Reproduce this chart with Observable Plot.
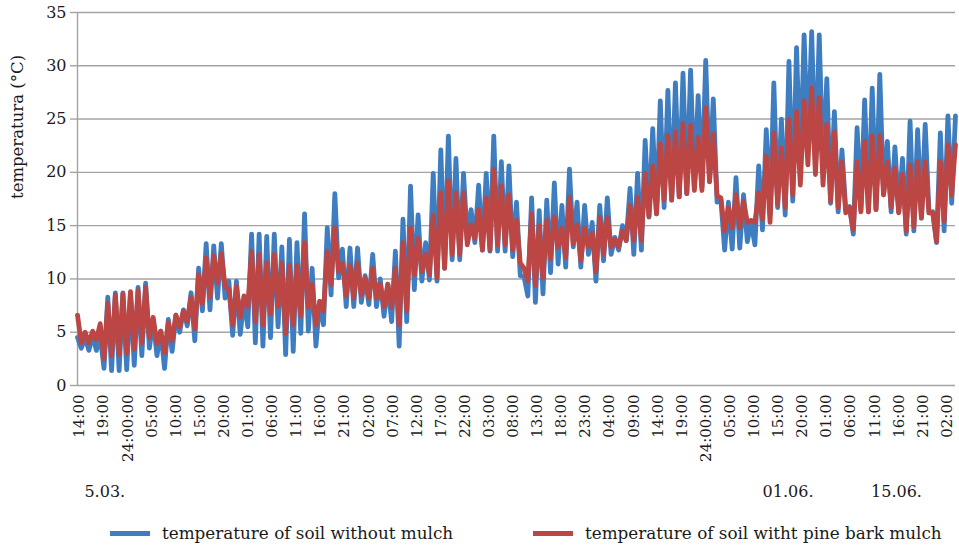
<!DOCTYPE html>
<html><head><meta charset="utf-8">
<script src="https://cdn.jsdelivr.net/npm/d3@7"></script>
<script src="https://cdn.jsdelivr.net/npm/@observablehq/plot@0.6"></script>
<style>
body{margin:0;background:#fff;font-family:"DejaVu Serif",serif;}
#chart{width:959px;height:545px;position:relative;overflow:hidden;}
.legend{position:absolute;top:522px;left:0;width:959px;height:22px;font-size:16.8px;color:#1a1a1a;}
.item{position:absolute;top:0;height:22px;display:flex;align-items:center;white-space:nowrap;}
.sw{width:40px;height:5px;margin-right:12px;}
</style></head><body><div id="chart"></div>
<script>
const tickLabels=["14:00","19:00","24:00:00","05:00","10:00","15:00","20:00","01:00","06:00","11:00","16:00","21:00","02:00","07:00","12:00","17:00","22:00","03:00","08:00","13:00","18:00","23:00","04:00","09:00","14:00","19:00","24:00:00","05:00","10:00","15:00","20:00","01:00","06:00","11:00","16:00","21:00","02:00"];
const dateLabels=["5.03.","01.06.","15.06."];
const datePositions=[1.05,29.4,33.9];
const seriesNames=["temperature of soil without mulch","temperature of soil witht pine bark mulch"];
const seriesColors=["#3f7dc1","#bc4643"];
const yTicks=[0,5,10,15,20,25,30,35];

const soilNoMulch=[
4.5,3.5,4.5,3.3,4.7,3.3,4.7,1.6,8.3,1.4,8.7,1.4,8.7,1.5,8.7,1.9,9.2,2.8,9.6,3.5,6.2,2.8,5.1,1.6,6.2,3.2,6.6,5.0,7.1,5.6,8.7,4.2,11.0,7.0,13.3,7.1,13.1,8.2,13.3,8.2,9.8,4.7,9.8,4.8,8.1,5.5,14.2,
4.0,14.2,3.7,14.0,4.5,14.2,5.5,13.0,2.9,13.7,3.2,13.4,4.9,16.1,5.1,11.0,3.7,7.9,5.7,14.8,8.5,18.0,10.1,12.8,7.4,12.9,7.4,12.9,7.8,10.3,7.6,12.3,7.4,10.0,6.5,9.5,6.0,12.6,3.7,15.6,6.0,18.7,9.0,16.0,9.8,13.4,9.9,
19.9,9.8,22.1,11.0,23.4,11.8,21.3,11.8,19.9,13.7,16.5,13.4,18.8,12.7,19.9,12.6,23.4,12.6,21.0,12.6,20.6,12.1,17.2,10.3,10.2,8.4,17.6,7.8,16.4,8.6,17.4,10.6,19.0,11.4,16.9,11.1,20.3,13.0,17.2,11.1,16.9,12.3,15.3,9.8,16.9,11.7,17.6,12.3,13.9,12.7,15.0,13.6,18.5,12.3,19.9,12.7,23.0,15.8,24.1,16.1,26.7,16.7,27.7,17.4,28.4,17.7,29.3,18.0,29.6,18.6,27.2,18.6,30.5,19.2,26.9,
17.2,17.5,12.7,17.2,12.8,19.5,12.9,17.9,13.5,15.3,13.2,20.6,14.6,24.0,16.0,28.4,16.7,25.0,
16.0,30.4,17.3,31.7,20.1,32.9,22.3,33.2,20.4,32.9,20.1,28.8,17.1,25.7,16.3,22.1,16.5,16.8,14.2,24.2,16.5,26.8,16.3,27.9,16.5,29.2,17.9,22.9,16.3,22.4,16.3,21.3,14.2,24.8,14.5,24.0,15.7,24.5,16.2,16.3,13.4,23.7,14.5,25.3,17.1,25.3
];
const soilPineBark=[
6.6,4.0,5.0,4.0,5.1,4.3,5.8,2.5,7.7,2.8,8.5,2.9,8.6,3.0,8.8,3.4,8.9,4.0,9.2,4.5,6.4,3.9,5.1,3.1,5.9,4.2,6.6,5.5,7.0,6.0,8.3,5.3,10.4,7.7,12.0,8.3,12.2,9.6,12.4,9.3,9.0,5.7,9.3,6.4,8.4,7.4,12.6,
6.0,12.3,5.7,11.5,6.7,12.3,7.4,11.5,4.9,11.3,5.7,11.3,6.5,13.4,7.3,9.5,5.7,7.9,7.0,12.6,9.5,14.8,10.7,11.5,8.4,11.3,8.2,11.5,8.5,10.1,8.2,11.0,8.2,9.5,7.4,9.5,7.3,11.0,5.7,13.4,7.0,14.8,10.4,13.8,10.7,12.3,10.4,
16.0,10.1,18.1,11.0,19.2,12.3,18.1,12.3,18.1,13.2,15.1,13.8,16.5,12.7,17.6,12.7,20.3,13.2,18.7,13.2,17.9,12.7,15.5,11.5,11.0,9.8,16.1,9.4,15.0,10.1,15.5,11.9,15.8,13.0,14.8,12.0,17.7,13.3,15.1,11.7,14.8,13.0,14.3,10.7,15.8,12.3,15.8,13.0,13.7,13.0,14.5,13.6,16.9,13.6,17.7,13.6,19.9,15.9,20.6,16.1,22.7,17.4,23.5,17.4,23.8,17.7,24.6,18.0,24.4,18.3,23.3,18.3,26.1,19.1,23.6,
17.8,17.6,14.5,16.7,14.8,17.9,14.8,17.3,15.3,15.5,15.3,18.1,15.6,21.5,15.3,23.7,17.0,22.3,
16.7,25.0,17.9,25.7,18.8,26.7,20.7,27.9,19.8,27.0,18.8,24.5,17.3,23.8,16.7,21.0,16.2,16.7,14.6,21.0,16.3,22.9,16.3,23.4,16.5,23.5,17.9,21.0,16.7,20.4,16.2,19.8,14.5,20.7,14.9,21.0,15.7,21.0,16.2,16.2,13.5,21.0,15.4,22.6,17.9,22.6
];

// regular sampling: samples per tick-label interval, first sample slightly left of first label
const samplesPerLabel=6.368, firstSample=-0.083, lastX=36.35;
const rows=[];
[soilNoMulch,soilPineBark].forEach((vals,s)=>vals.forEach((v,i)=>rows.push({series:seriesNames[s],x:firstSample+i/samplesPerLabel,t:v})));

const gridColor="#a3a3a3";
const chart=Plot.plot({
  width:959,height:515,marginLeft:77,marginRight:4,marginTop:12,marginBottom:130,
  style:{fontFamily:"DejaVu Serif, serif",fontSize:"15px",color:"#1a1a1a",background:"#fff",overflow:"visible"},
  x:{domain:[firstSample,lastX]},
  y:{domain:[0,35]},
  color:{domain:seriesNames,range:seriesColors},
  marks:[
    Plot.gridY(yTicks,{stroke:gridColor,strokeOpacity:1,strokeWidth:1.4}),
    Plot.axisY(yTicks,{tickSize:7,tickPadding:4,stroke:gridColor,strokeWidth:1.4,fontSize:16,label:null}),
    Plot.text(["temperatura (°C)"],{frameAnchor:"left",dx:-60,rotate:-90,fontSize:16.5,text:d=>d}),
    Plot.ruleX([firstSample],{stroke:gridColor,strokeWidth:1.4}),
    Plot.axisX(d3.range(tickLabels.length),{tickFormat:i=>tickLabels[i],tickRotate:-90,tickSize:0,tickPadding:9,fontSize:15,label:null}),
    Plot.line(rows,{x:"x",y:"t",z:"series",stroke:"series",strokeWidth:4.8,strokeLinejoin:"round",strokeLinecap:"round"}),
    Plot.text(dateLabels,{x:(d,i)=>datePositions[i],text:d=>d,frameAnchor:"bottom",dy:111,fontSize:16})
  ]
});
const root=document.getElementById("chart");
root.appendChild(chart);
const legend=document.createElement("div");
legend.className="legend";
const legendLeft=[110,533];
seriesNames.forEach((n,i)=>{
  const it=document.createElement("div");it.className="item";it.style.left=legendLeft[i]+"px";
  const sw=document.createElement("span");sw.className="sw";sw.style.background=seriesColors[i];
  const tx=document.createElement("span");tx.textContent=n;
  it.appendChild(sw);it.appendChild(tx);legend.appendChild(it);
});
root.appendChild(legend);
</script></body></html>
